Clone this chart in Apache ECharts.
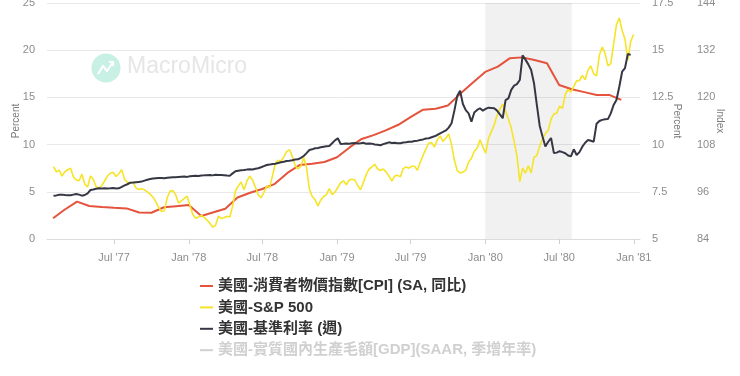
<!DOCTYPE html>
<html>
<head>
<meta charset="utf-8">
<script src="https://cdn.jsdelivr.net/npm/echarts@6/dist/echarts.min.js"></script>
<style>
html, body { margin: 0; padding: 0; background: #fff; }
#chart { width: 740px; height: 376px; }
</style>
</head>
<body>
<div id="chart"></div>
<script>
// 美國 CPI 年增率, 月資料, 從 1977-02 起
const cpiStart = [1977, 1]
const cpiValues = [
    6.10, 6.55, 6.98, 6.75, 6.70, 6.66, 6.62, 6.40, 6.39, 6.68, 6.74,
    6.80, 6.22, 6.40, 6.60, 7.20, 7.45, 7.65, 7.92, 8.50, 8.92, 8.98, 9.08,
    9.33, 9.85, 10.28, 10.50, 10.75, 11.05, 11.45, 11.85, 11.90, 12.07, 12.70, 13.27,
    13.85, 14.13, 14.57, 14.62, 14.48, 14.31, 13.16, 12.93, 12.78, 12.63, 12.63, 12.37
]

// 週資料, 從 1977-02-02 起
const weekStart = [1977, 1, 2]
const ffValues = [
    4.59, 4.62, 4.68, 4.70, 4.66, 4.64, 4.63, 4.70, 4.77, 4.70, 4.59, 4.66, 4.84, 5.19, 5.25, 5.32,
    5.37, 5.35, 5.38, 5.36, 5.37, 5.40, 5.36, 5.37, 5.52, 5.68, 5.80, 5.96, 5.98, 6.02, 6.05, 6.08,
    6.18, 6.28, 6.35, 6.40, 6.43, 6.45, 6.47, 6.44, 6.49, 6.52, 6.55, 6.53, 6.58, 6.60, 6.62, 6.58,
    6.64, 6.67, 6.70, 6.68, 6.72, 6.74, 6.75, 6.78, 6.74, 6.80, 6.77, 6.78, 6.76, 6.73, 6.71, 6.95,
    7.18, 7.24, 7.28, 7.30, 7.35, 7.38, 7.36, 7.45, 7.49, 7.60, 7.72, 7.84, 7.88, 7.94, 7.98, 8.05,
    8.12, 8.18, 8.26, 8.30, 8.35, 8.42, 8.44, 8.60, 8.79, 9.10, 9.43, 9.50, 9.61, 9.65, 9.72, 9.78,
    9.82, 9.85, 10.14, 10.45, 10.67, 10.06, 10.08, 10.12, 10.10, 10.14, 10.18, 10.12, 10.14, 10.20, 10.08, 10.12,
    10.10, 10.02, 9.98, 9.93, 10.05, 10.15, 10.24, 10.18, 10.20, 10.15, 10.14, 10.22, 10.25, 10.30, 10.31, 10.38,
    10.42, 10.49, 10.55, 10.64, 10.67, 10.78, 10.88, 11.02, 11.20, 11.35, 11.50, 11.80, 12.26, 13.60, 15.15, 15.71,
    14.30, 13.65, 13.31, 12.43, 13.40, 13.67, 13.85, 13.60, 13.78, 13.91, 13.88, 13.85, 13.60, 13.20, 12.79, 14.72,
    14.90, 15.80, 16.25, 16.40, 16.84, 19.45, 19.00, 18.50, 17.90, 16.50, 14.20, 12.00, 10.85, 9.80, 10.30, 10.70,
    9.10, 9.15, 9.30, 9.20, 9.08, 8.85, 8.75, 9.50, 8.90, 9.20, 9.78, 10.20, 10.49, 10.40, 10.31, 12.20,
    12.50, 12.62, 12.68, 12.70, 13.31, 14.20, 14.72, 16.13, 17.72, 18.10, 19.60, 19.50
]
const spxValues = [
    102.4, 101.1, 101.5, 100.0, 101.1, 101.6, 102.0, 99.8, 99.0, 98.8, 100.5, 98.0, 97.2, 100.0, 99.2, 97.3,
    97.0, 97.6, 98.8, 100.0, 100.8, 100.9, 99.9, 100.6, 101.6, 99.2, 98.4, 98.3, 98.4, 97.0, 96.6, 96.8,
    96.5, 96.0, 95.4, 94.6, 93.5, 92.0, 91.0, 91.2, 94.5, 96.2, 96.3, 95.2, 93.1, 93.7, 94.3, 94.9,
    92.5, 90.2, 89.3, 89.6, 90.0, 89.5, 88.8, 88.0, 87.0, 87.5, 89.8, 89.2, 89.4, 89.8, 89.6, 92.3,
    96.2, 97.5, 98.5, 96.5, 98.7, 100.0, 99.0, 97.2, 95.2, 94.5, 95.8, 97.5, 97.0, 100.0, 103.2, 104.0,
    103.7, 104.9, 106.2, 106.7, 105.0, 102.6, 101.8, 102.5, 104.7, 102.2, 96.7, 94.8, 94.0, 92.4, 93.9, 94.8,
    95.3, 96.8, 95.3, 95.9, 97.1, 98.3, 98.8, 97.8, 99.0, 99.2, 99.0, 97.6, 96.5, 98.4, 100.4, 101.8,
    102.3, 103.0, 101.8, 101.4, 101.8, 101.0, 100.0, 98.7, 100.0, 100.2, 99.8, 101.9, 102.3, 102.0, 102.5, 102.5,
    101.5, 103.5, 105.3, 106.9, 108.4, 108.5, 107.4, 109.2, 110.2, 108.8, 109.7, 110.7, 108.0, 104.0, 101.4, 100.8,
    101.0, 101.5, 103.6, 104.5, 106.3, 107.1, 109.2, 107.5, 105.8, 109.6, 111.3, 113.0, 115.4, 117.0, 118.3, 116.5,
    114.5, 112.2, 108.8, 105.2, 98.6, 102.0, 100.7, 102.6, 100.8, 104.8, 105.2, 107.6, 109.5, 110.8, 111.6, 114.5,
    115.8, 116.0, 117.8, 117.2, 120.8, 122.0, 121.4, 122.8, 124.2, 124.3, 125.6, 124.5, 127.0, 128.0, 126.0, 125.5,
    130.8, 132.8, 131.2, 128.0, 128.6, 133.5, 138.5, 140.2, 137.0, 134.8, 129.5, 134.2, 136.0
]

const xTickDates = ['1977-07-01', '1978-01-01', '1978-07-01', '1979-01-01', '1979-07-01', '1980-01-01', '1980-07-01', '1981-01-01']
const xTickLabels = ["Jul '77", "Jan '78", "Jul '78", "Jan '79", "Jul '79", "Jan '80", "Jul '80", "Jan '81"]
const recession = ['1980-01-01', '1980-08-01']

const names = [
    '美國-消費者物價指數[CPI] (SA, 同比)',
    '美國-S&P 500',
    '美國-基準利率 (週)',
    '美國-實質國內生產毛額[GDP](SAAR, 季增年率)'
]

function toTime(s) {
    let p = s.split('-')
    return new Date(+p[0], +p[1] - 1, +p[2]).getTime()
}

let cpiData = cpiValues.map((v, i) => [new Date(cpiStart[0], cpiStart[1] + i, 1).getTime(), v])
let ffData = ffValues.map((v, i) => [new Date(weekStart[0], weekStart[1], weekStart[2] + 7 * i).getTime(), v])
let spxData = spxValues.map((v, i) => [new Date(weekStart[0], weekStart[1], weekStart[2] + 7 * i).getTime(), v])
let tickTimes = xTickDates.map(toTime)

const labelFont = '"Liberation Sans", "Noto Sans CJK TC", sans-serif'
const axisLabelStyle = { color: '#8c8c8c', fontSize: 11, fontFamily: labelFont }
const axisNameStyle = { color: '#7a7a7a', fontSize: 10, fontFamily: labelFont }

let chart = echarts.init(document.getElementById('chart'), null, { renderer: 'canvas' })

let option = {
    animation: false,
    backgroundColor: '#fff',
    grid: { left: 47, right: 100, top: 3, bottom: 137, outerBoundsMode: 'none' },
    graphic: [
        { type: 'circle', shape: { cx: 106, cy: 68, r: 14.5 }, style: { fill: '#c9f0e4' }, silent: true },
        { type: 'polyline', shape: { points: [[98, 74], [103, 66], [107, 71], [113, 62]] },
          style: { stroke: '#fff', lineWidth: 2, fill: null }, silent: true },
        { type: 'polyline', shape: { points: [[109, 62], [113, 62], [113, 66]] },
          style: { stroke: '#fff', lineWidth: 2, fill: null }, silent: true },
        { type: 'text', left: 127, top: 55,
          style: { text: 'MacroMicro', fill: '#e6e6e6', font: '500 23px "Liberation Sans", sans-serif' }, silent: true }
    ],
    legend: {
        orient: 'vertical',
        left: 200,
        top: 278,
        padding: 0,
        icon: 'rect',
        itemWidth: 13,
        itemHeight: 2,
        itemGap: 5.4,
        itemStyle: { borderWidth: 0 },
        inactiveColor: '#d0d0d0',
        textStyle: { color: '#333', fontSize: 15, fontWeight: 'bold', lineHeight: 16, fontFamily: labelFont },
        data: names,
        selected: { [names[3]]: false }
    },
    xAxis: {
        type: 'value',
        min: toTime('1977-01-17'),
        max: toTime('1981-01-16'),
        axisLine: { lineStyle: { color: '#dcdcdc' } },
        axisTick: { show: true, customValues: tickTimes, length: 5, lineStyle: { color: '#d0d0d0' } },
        axisLabel: Object.assign({
            customValues: tickTimes,
            margin: 13,
            formatter: function (value) {
                let i = tickTimes.indexOf(value)
                return i >= 0 ? xTickLabels[i] : ''
            }
        }, axisLabelStyle),
        splitLine: { show: false }
    },
    yAxis: [
        {
            type: 'value', position: 'left', min: 0, max: 25, interval: 5,
            name: 'Percent', nameLocation: 'middle', nameGap: 26, nameRotate: 90, nameMoveOverlap: false,
            nameTextStyle: axisNameStyle,
            axisLabel: Object.assign({ margin: 12 }, axisLabelStyle),
            axisLine: { show: false }, axisTick: { show: false },
            splitLine: { lineStyle: { color: '#e8e8e8' } }
        },
        {
            type: 'value', position: 'right', min: 5, max: 17.5, interval: 2.5,
            name: 'Percent', nameLocation: 'middle', nameGap: 32, nameRotate: -90, nameMoveOverlap: false,
            nameTextStyle: axisNameStyle,
            axisLabel: Object.assign({ margin: 12 }, axisLabelStyle),
            axisLine: { show: false }, axisTick: { show: false },
            splitLine: { show: false }
        },
        {
            type: 'value', position: 'right', offset: 45, min: 84, max: 144, interval: 12,
            name: 'Index', nameLocation: 'middle', nameGap: 30, nameRotate: -90, nameMoveOverlap: false,
            nameTextStyle: axisNameStyle,
            axisLabel: Object.assign({ margin: 12 }, axisLabelStyle),
            axisLine: { show: false }, axisTick: { show: false },
            splitLine: { show: false }
        }
    ],
    series: [
        {
            name: names[0], type: 'line', yAxisIndex: 1, data: cpiData,
            showSymbol: false, color: '#e5533d', lineStyle: { width: 2 },
            markArea: {
                silent: true,
                itemStyle: { color: 'rgba(0,0,0,0.055)' },
                data: [[{ xAxis: toTime(recession[0]) }, { xAxis: toTime(recession[1]) }]]
            }
        },
        {
            name: names[1], type: 'line', yAxisIndex: 2, data: spxData,
            showSymbol: false, color: '#f6e428', lineStyle: { width: 1.6 }
        },
        {
            name: names[2], type: 'line', yAxisIndex: 0, data: ffData,
            showSymbol: false, color: '#363744', lineStyle: { width: 2 }
        },
        {
            name: names[3], type: 'line', yAxisIndex: 1, data: [],
            showSymbol: false, color: '#8fb3e0', lineStyle: { width: 2 }
        }
    ]
}
chart.setOption(option)
</script>
</body>
</html>
